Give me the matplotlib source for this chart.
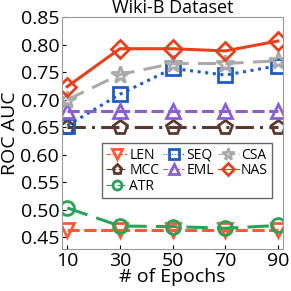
import matplotlib
matplotlib.use("Agg")
import matplotlib.pyplot as plt

plt.rcParams['font.family'] = ['Open Sans', 'DejaVu Sans']

# epochs on x axis
epochs = [10, 30, 50, 70, 90]

# ROC AUC per method
len_auc = [0.462, 0.462, 0.462, 0.462, 0.462]
mcc_auc = [0.650, 0.650, 0.650, 0.650, 0.650]
atr_auc = [0.503, 0.470, 0.469, 0.466, 0.471]
seq_auc = [0.653, 0.710, 0.757, 0.745, 0.762]
eml_auc = [0.680, 0.680, 0.680, 0.680, 0.680]
csa_auc = [0.700, 0.746, 0.766, 0.766, 0.771]
nas_auc = [0.724, 0.793, 0.793, 0.789, 0.807]

yticks = [0.45, 0.50, 0.55, 0.60, 0.65, 0.70, 0.75, 0.80, 0.85]

fig = plt.figure(figsize=(2.91, 2.91), dpi=100)
ax = fig.add_axes([0.213, 0.144, 0.760, 0.798])

lw = 2.2
ms = 10
mew = 2.0

ax.plot(epochs, len_auc, color='#fc5a32', ls=(0, (4, 1.5)), lw=lw, marker='v',
        ms=ms, mew=mew, mfc='none', label='LEN')
ax.plot(epochs, mcc_auc, color='#5a3a30', ls=(0, (6, 2, 1, 2)), lw=lw, marker='p',
        ms=ms, mew=mew, mfc='none', label='MCC')
ax.plot(epochs, atr_auc, color='#27a35a', ls=(0, (7, 3)), lw=lw, marker='o',
        ms=ms, mew=mew, mfc='none', label='ATR')
ax.plot(epochs, seq_auc, color='#1f5cc4', ls=(0, (1, 1.5)), lw=lw, marker='s',
        ms=ms, mew=mew, mfc='none', label='SEQ')
ax.plot(epochs, eml_auc, color='#8a5fd6', ls=(0, (4, 1.5)), lw=lw, marker='^',
        ms=ms, mew=mew, mfc='none', label='EML')
ax.plot(epochs, csa_auc, color='#aaaaaa', ls=(0, (6, 3)), lw=lw, marker='*',
        ms=ms + 3, mew=mew, mfc='none', label='CSA')
ax.plot(epochs, nas_auc, color='#e8401c', ls='-', lw=lw, marker='D',
        ms=ms - 1, mew=mew, mfc='none', label='NAS')

ax.set_xlim(8, 92)
ax.set_ylim(0.428, 0.851)
ax.set_xticks(epochs)
ax.set_yticks(yticks)
ax.set_yticklabels([f"{v:.2f}" for v in yticks])
ax.tick_params(labelsize=14, length=3, direction='in', pad=2)

for s in ax.spines.values():
    s.set_color('#999999')

ax.set_xlabel('# of Epochs', fontsize=14, labelpad=-1)
ax.set_ylabel('ROC AUC', fontsize=14, labelpad=1)
ax.set_title('Wiki-B Dataset', fontsize=13, pad=1)

leg = ax.legend(ncol=3, fontsize=10, loc='upper left', bbox_to_anchor=(0.15, 0.485),
                handlelength=1.5, handletextpad=0.15, columnspacing=0.3,
                labelspacing=0.05, borderpad=0.3, markerscale=0.65,
                fancybox=False, edgecolor='#666666', framealpha=1)
for h in leg.get_lines():
    h.set_linewidth(0.8)

fig.savefig('out.png', dpi=100)
